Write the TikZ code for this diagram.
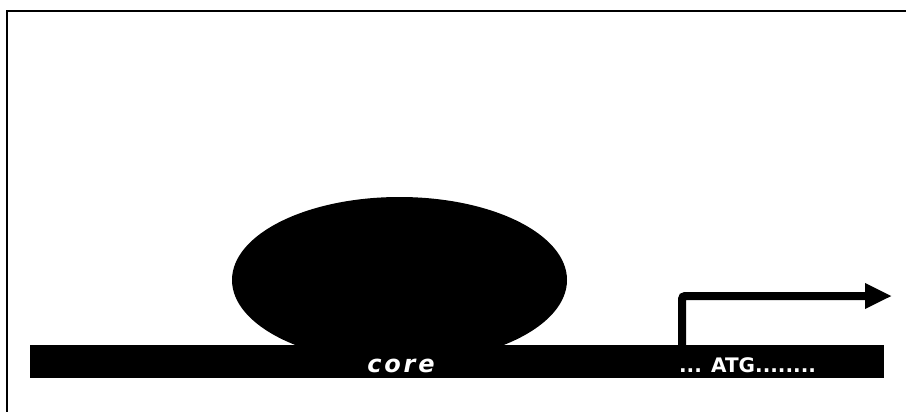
\documentclass[tikz,border=0pt]{standalone}
\usepackage{fontspec}
\setmainfont{DejaVu Sans}
\usetikzlibrary{shapes.geometric,arrows.meta}
\begin{document}
\begin{tikzpicture}[x=1pt,y=-1pt,
  frame/.style={line width=2.5pt,black},
  blob/.style={ellipse,fill=black,inner sep=0pt,minimum width=335pt,minimum height=166pt},
  dna/.style={rectangle,fill=black,inner sep=0pt,minimum width=854pt,minimum height=33pt},
  lab/.style={text=white,anchor=base,inner sep=0pt},
  tssarrow/.style={line width=8pt,rounded corners=3pt,-{Triangle[length=27pt,width=24pt]}}]
\useasboundingbox (0,0) rectangle (906,412);
\fill[white] (0,0) rectangle (906,412);
\draw[frame] (906,11) -- (7,11) -- (7,412);
\node[blob] (prot) at (399.5,280) {};
\node[dna] (bar) at (457,361.5) {};
\node[lab,font={\fontsize{24}{24}\selectfont\bfseries\itshape\addfontfeatures{LetterSpace=12}}] (core) at (401,372) {core};
\node[lab,font={\fontsize{20}{20}\selectfont\bfseries}] (atg) at (747.5,372) {... ATG........};
\coordinate (tss) at (682,345);
\coordinate (tip) at (892,296);
\draw[tssarrow] (tss) |- (tip);
\end{tikzpicture}
\end{document}
